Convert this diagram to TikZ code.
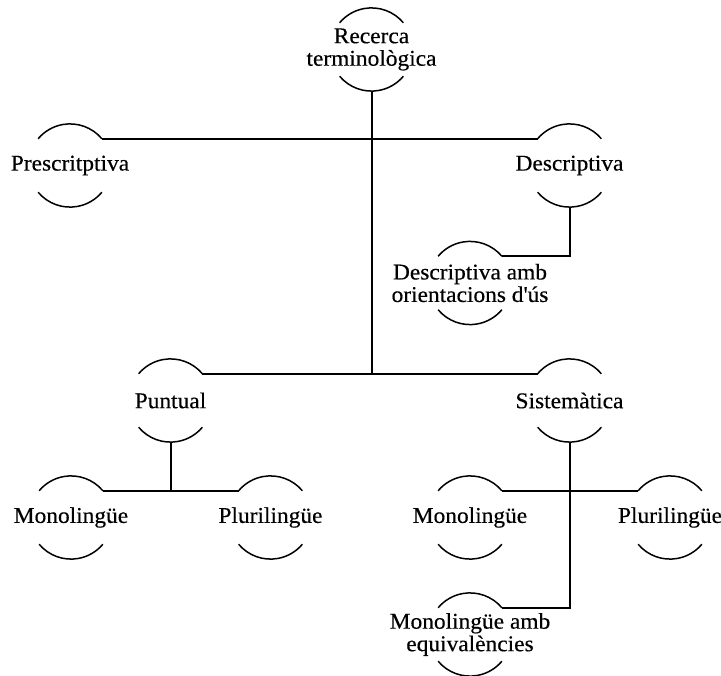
\documentclass[tikz,border=0pt]{standalone}
\usepackage{fontspec}
\setmainfont[FakeStretch=1.04,FakeBold=0.4]{Liberation Serif}
\newcommand{\termfont}{\fontsize{22.5}{22.5}\selectfont}
\begin{document}
\begin{tikzpicture}[x=1pt,y=1pt,
  term/.style={circle, minimum size=83.2pt, inner sep=0pt, outer sep=0pt,
    label={[termtext]center:{#1}}},
  termtext/.style={align=center, font=\termfont, inner sep=0pt},
  arcline/.style={line width=1.5pt},
  link/.style={line width=2pt}]
\useasboundingbox (0,0) rectangle (721,-676);

% terms (each one sits between two arcs of a circle)
\node[term={Recerca\\terminològica}] (root) at (371.5,-49.5) {};
\node[term={Prescritptiva}] (pres) at (70,-165.5) {};
\node[term={Descriptiva}] (desc) at (569.5,-165.5) {};
\node[term={Descriptiva amb\\orientacions d\textquotesingle ús}] (desca) at (470,-283) {};
\node[term={Puntual}] (punt) at (170.5,-400.5) {};
\node[term={Sistemàtica}] (sist) at (569.5,-400.5) {};
\node[term={Monolingüe}] (monoL) at (71,-517.5) {};
\node[term={Plurilingüe}] (pluriL) at (270.5,-517.5) {};
\node[term={Monolingüe}] (monoR) at (470,-517.5) {};
\node[term={Plurilingüe}] (pluriR) at (670,-517.5) {};
\node[term={Monolingüe amb\\equivalències}] (monoamb) at (470,-634.5) {};

% upper and lower arcs
\foreach \n in {root,pres,desc,desca,punt,sist,monoL,pluriL,monoR,pluriR,monoamb}{
  \draw[arcline] (\n.40) arc[start angle=40, end angle=140, radius=41.6pt];
  \draw[arcline] (\n.220) arc[start angle=220, end angle=320, radius=41.6pt];
}

% connectors
\draw[link] (root.south) -- (root.south |- punt.40);
\draw[link] (pres.40) -- (desc.140);
\draw[link] (punt.40) -- (sist.140);
\draw[link] (desc.south) |- (desca.40);
\draw[link] (punt.south) -- (punt.south |- monoL.40);
\draw[link] (monoL.40) -- (pluriL.140);
\draw[link] (sist.south) |- (monoamb.40);
\draw[link] (monoR.40) -- (pluriR.140);
\end{tikzpicture}
\end{document}
